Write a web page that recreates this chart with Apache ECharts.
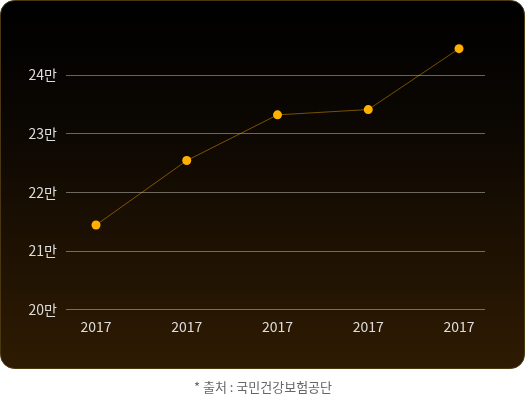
<!DOCTYPE html>
<html><head><meta charset="utf-8">
<script src="https://cdn.jsdelivr.net/npm/echarts@6/dist/echarts.min.js"></script>
<style>html,body{margin:0;padding:0;background:#fff}#c{width:526px;height:400px}</style>
</head><body><div id="c"></div>
<script>
const categories = ['2017','2017','2017','2017','2017'];
const values = [21.44, 22.54, 23.32, 23.41, 24.45];
const yTicks = [20, 21, 22, 23, 24];
const sourceText = '* 출처 : 국민건강보험공단';

const chart = echarts.init(document.getElementById('c'), null, {renderer:'canvas'});
const font = '"Noto Sans CJK KR", "Noto Sans", sans-serif';
chart.setOption({
  animation:false,
  graphic:[
    {type:'rect', z:-10, shape:{x:0.5,y:0.5,width:524,height:368,r:14},
     style:{fill:new echarts.graphic.LinearGradient(0,0,0,1,[{offset:0,color:'#000000'},{offset:0.3,color:'#0a0602'},{offset:1,color:'#2f1b02'}]), stroke:'#4a3712', lineWidth:1}},
    {type:'text', left:'center', top:381, style:{text:sourceText, fill:'#666', font:'13px '+font}}
  ],
  grid:[
    {left:66, right:41, top:75, height:234.4},
    {left:96, right:67, top:75, height:234.4}
  ],
  xAxis:[
    {gridIndex:0, type:'category', data:categories, show:false},
    {gridIndex:1, type:'category', data:categories, boundaryGap:false,
     axisLine:{show:false}, axisTick:{show:false},
     axisLabel:{color:'#ddd', fontSize:14, fontFamily:font, margin:10}}
  ],
  yAxis:[
    {gridIndex:0, type:'value', min:yTicks[0], max:yTicks[yTicks.length-1], interval:1,
     axisLine:{show:false}, axisTick:{show:false},
     axisLabel:{color:'#ddd', fontSize:14, fontFamily:font, margin:9, formatter:v=>v+'만'},
     splitLine:{lineStyle:{color:'rgba(255,255,255,0.38)', width:1}}},
    {gridIndex:1, type:'value', min:yTicks[0], max:yTicks[yTicks.length-1], interval:1, show:false, splitLine:{show:false}}
  ],
  series:[{
    type:'line', xAxisIndex:1, yAxisIndex:1, data:values, clip:false,
    symbol:'circle', symbolSize:9,
    lineStyle:{color:'rgba(255,170,0,0.45)', width:1},
    itemStyle:{color:'#ffb000'}
  }]
});
</script></body></html>
